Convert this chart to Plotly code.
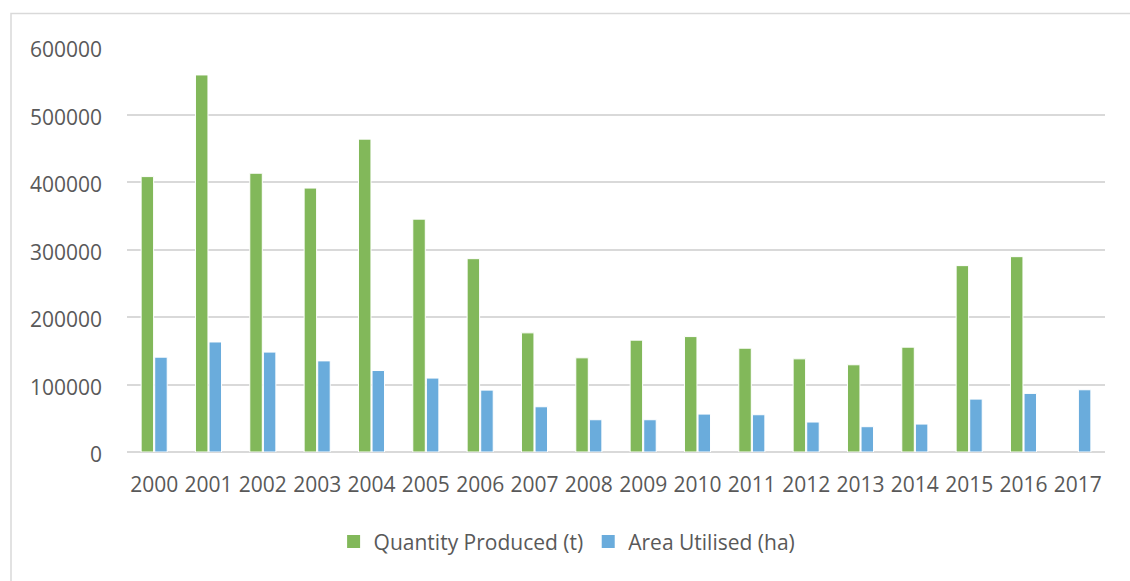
import plotly.graph_objects as go

years = [str(y) for y in range(2000, 2018)]
quantity_produced = [408000, 558600, 413000, 391000, 463500, 345000, 286400, 176500, 139500,
                     165700, 171000, 153800, 138000, 129200, 155300, 276100, 289400, None]
area_utilised = [140500, 163000, 148000, 135000, 120700, 109500, 91700, 67000, 47800,
                 47800, 56200, 55200, 44400, 37500, 41400, 78400, 86800, 92200]
y_ticks = [0, 100000, 200000, 300000, 400000, 500000, 600000]
series_names = ["Quantity Produced (t)", "Area Utilised (ha)"]
series_colors = ["#82B85A", "#6AACDC"]

FONT = "Open Sans"
TXT = "#595959"
FS = 21

fig = go.Figure()
for name, vals, col in zip(series_names, [quantity_produced, area_utilised], series_colors):
    fig.add_trace(go.Bar(x=years, y=vals, name=name, legendgroup=name, showlegend=False,
                         marker=dict(color=col, line=dict(color="#FFFFFF", width=1))))
# legend entries with larger square swatches
for name, col in zip(series_names, series_colors):
    fig.add_trace(go.Scatter(x=[None], y=[None], mode="markers", name=name, legendgroup=name,
                             marker=dict(symbol="square", size=13, color=col),
                             hoverinfo="skip"))

fig.update_layout(
    width=1130, height=581,
    margin=dict(l=127, r=25, t=47, b=129),
    paper_bgcolor="white", plot_bgcolor="white",
    barmode="group", bargap=0.5, bargroupgap=0.08,
    font=dict(family=FONT, size=FS, color=TXT),
    showlegend=True,
    legend=dict(orientation="h", x=0.45, xanchor="center", y=-0.222, yanchor="middle",
                font=dict(family=FONT, size=FS, color=TXT), itemwidth=30,
                traceorder="normal", bgcolor="rgba(0,0,0,0)"),
    xaxis=dict(type="category", showgrid=False, showline=False, zeroline=False,
               ticks="", ticklabelstandoff=18, tickfont=dict(size=FS, color=TXT)),
    yaxis=dict(range=[0, 600000], tickvals=y_ticks, ticktext=[str(v) for v in y_ticks],
               showgrid=True, gridcolor="#D9D9D9", gridwidth=1.5,
               zeroline=True, zerolinecolor="#D9D9D9", zerolinewidth=1.5,
               showline=False, ticks="", ticklabelstandoff=24, ticklabelshift=3,
               tickfont=dict(size=FS, color=TXT)),
    shapes=[dict(type="rect", xref="paper", yref="paper",
                 x0=-0.1186, x1=1.2, y0=-0.5, y1=1.083,
                 line=dict(color="#D9D9D9", width=1.5), fillcolor="rgba(0,0,0,0)", layer="below")],
)

fig.write_html("out.html")
